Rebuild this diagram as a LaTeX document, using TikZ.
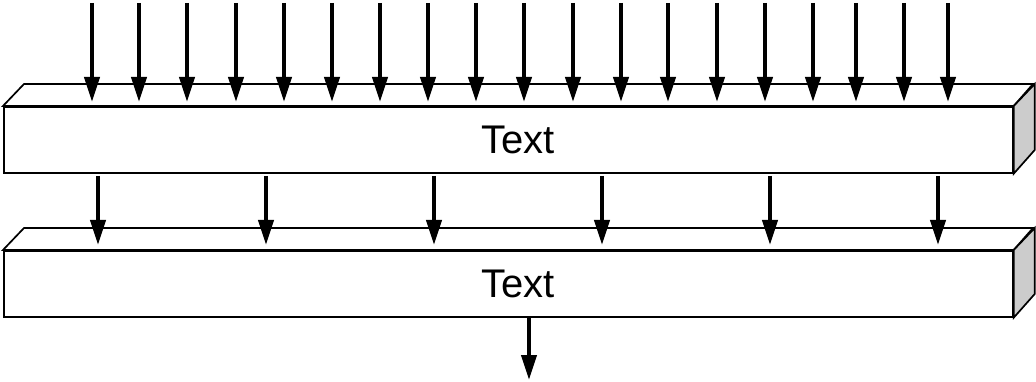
\documentclass[tikz,border=0pt]{standalone}
\usepackage{fontspec}
\setmainfont{Liberation Sans}
\usetikzlibrary{arrows.meta,calc}

\begin{document}
\begin{tikzpicture}[x=1pt,y=-1pt,
        bar/.style={draw,line width=1.7pt,fill=white,minimum width=1009pt,minimum height=66pt,inner sep=0pt,anchor=north west},
        face/.style={draw,line width=1.7pt},
        flow/.style={line width=4pt,-{Triangle[length=25pt,width=15pt]}},
        bartext/.style={font=\fontsize{40}{48}\selectfont}]
        \useasboundingbox (0,0) rectangle (1036,382);
        % upper block
        \node[bar] (barA) at (3,106) {};
        \draw[face,fill=white] (barA.north west) -- ++(21,-22) -- ++(1009,0) -- (barA.north east) -- cycle;
        \draw[face,fill=black!20] (barA.north east) -- ++(21,-22) -- ++(0,66) -- (barA.south east) -- cycle;
        \node[bartext] (txtA) at ($(barA.center)+(10,0)$) {Text};
        % lower block
        \node[bar] (barB) at (3,250) {};
        \draw[face,fill=white] (barB.north west) -- ++(21,-22) -- ++(1009,0) -- (barB.north east) -- cycle;
        \draw[face,fill=black!20] (barB.north east) -- ++(21,-22) -- ++(0,66) -- (barB.south east) -- cycle;
        \node[bartext] (txtB) at ($(barB.center)+(10,0)$) {Text};
        % inputs
        \foreach \x [count=\i] in {92,139,187,236,284,332,380,428,476,524,573,621,668,717,765,813,856,904,948} {
            \coordinate (srcA\i) at (\x,3);
            \coordinate (tipA\i) at (\x,102);
            \draw[flow] (srcA\i) -- (tipA\i);
        }
        % between blocks
        \foreach \x [count=\i] in {98,266,434,602,770,938} {
            \coordinate (srcB\i) at (\x,176);
            \coordinate (tipB\i) at (\x,245);
            \draw[flow] (srcB\i) -- (tipB\i);
        }
        % output
        \coordinate (outS) at (529,318);
        \coordinate (outE) at (529,380);
        \draw[flow] (outS) -- (outE);
    \end{tikzpicture}
\end{document}
